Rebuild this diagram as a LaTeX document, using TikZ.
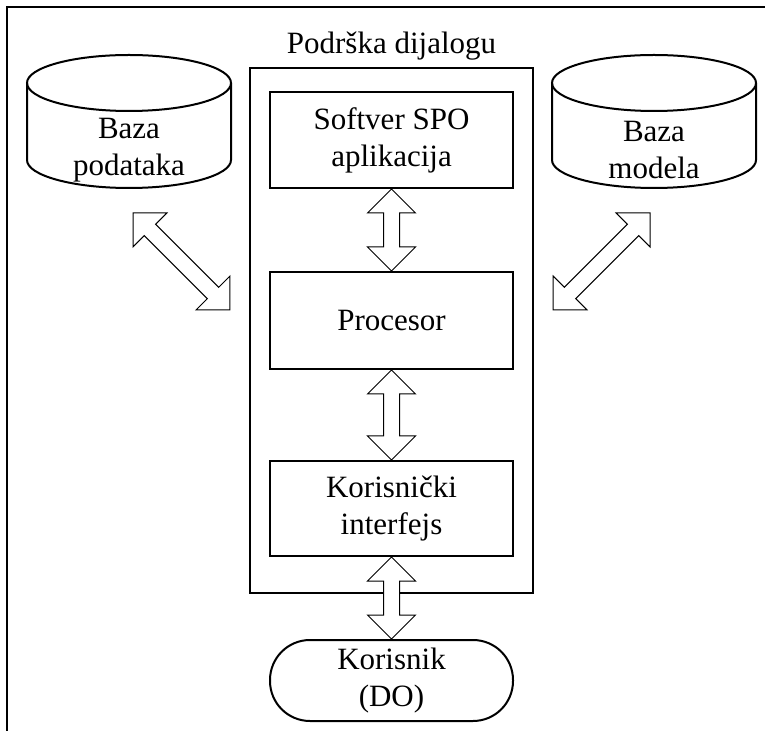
\documentclass[tikz,border=0pt]{standalone}
\usepackage{fontspec}
\setmainfont{Liberation Serif}
\usetikzlibrary{positioning,calc}

\tikzset{
	box/.style={draw, line width=2pt, minimum width=243pt, inner sep=0pt, align=center},
	dbtext/.style={inner sep=0pt, align=center},
	dbline/.style={line width=2pt},
	frameline/.style={line width=2.5pt},
	arrowline/.style={draw, fill=white, line width=1pt, line join=miter},
	blockarrow/.style={arrowline, to path={
		let \p1=(\tikztostart), \p2=(\tikztotarget),
			\n1={atan2(\y2-\y1,\x2-\x1)}, \n2={veclen(\x2-\x1,\y2-\y1)}
		in {[shift={(\p1)}, rotate=\n1]
			(0,0) -- (24,24) -- (24,8) -- (\n2-24,8) -- (\n2-24,24) -- (\n2,0)
			-- (\n2-24,-24) -- (\n2-24,-8) -- (24,-8) -- (24,-24) -- cycle}
	}}
}

\begin{document}
\begin{tikzpicture}[x=1pt, y=1pt,
	every node/.style={font=\fontsize{31}{37}\selectfont}]
	\useasboundingbox (0,0) rectangle (765,731);

	% frame
	\draw[frameline] (765,724) -- (7,724) -- (7,0);

	% container
	\node[anchor=base] (title) at (391.5,677) {Podrška dijalogu};
	\node[draw, line width=2pt, minimum width=283pt, minimum height=525pt] (cont) at (391.5,400.5) {};

	\node[box, minimum height=96pt] (soft) at (391.5,591) {Softver SPO\\aplikacija};
	\node[box, minimum height=97pt, below=82pt of soft] (proc) {Procesor};
	\node[box, minimum height=95pt, below=90pt of proc] (ui) {Korisnički\\interfejs};
	\node[box, minimum height=81pt, rounded corners=40pt, below=82pt of ui] (user) {Korisnik\\(DO)};

	% databases
	\draw[dbline] (129,648) ellipse [x radius=102, y radius=28];
	\draw[dbline] (27,648) -- (27,571) arc[start angle=180, end angle=360, x radius=102, y radius=28] -- (231,648);
	\node[dbtext] (dbdata) at (129,580.5) {Baza\\podataka};

	\draw[dbline] (654,648) ellipse [x radius=102, y radius=28];
	\draw[dbline] (552,648) -- (552,571) arc[start angle=180, end angle=360, x radius=102, y radius=28] -- (756,648);
	\node[dbtext] (dbmodel) at (654,580.5) {Baza\\modela};

	\coordinate (dataend) at (133,518);
	\coordinate (contleft) at (230,421);
	\coordinate (modelend) at (650,518);
	\coordinate (contright) at (553,421);

	% arrows
	\draw[blockarrow] (soft.south) to (proc.north);
	\draw[blockarrow] (proc.south) to (ui.north);
	\draw[blockarrow] (ui.south) to (user.north);
	\draw[blockarrow] (dataend) to (contleft);
	\draw[blockarrow] (modelend) to (contright);

\end{tikzpicture}
\end{document}
